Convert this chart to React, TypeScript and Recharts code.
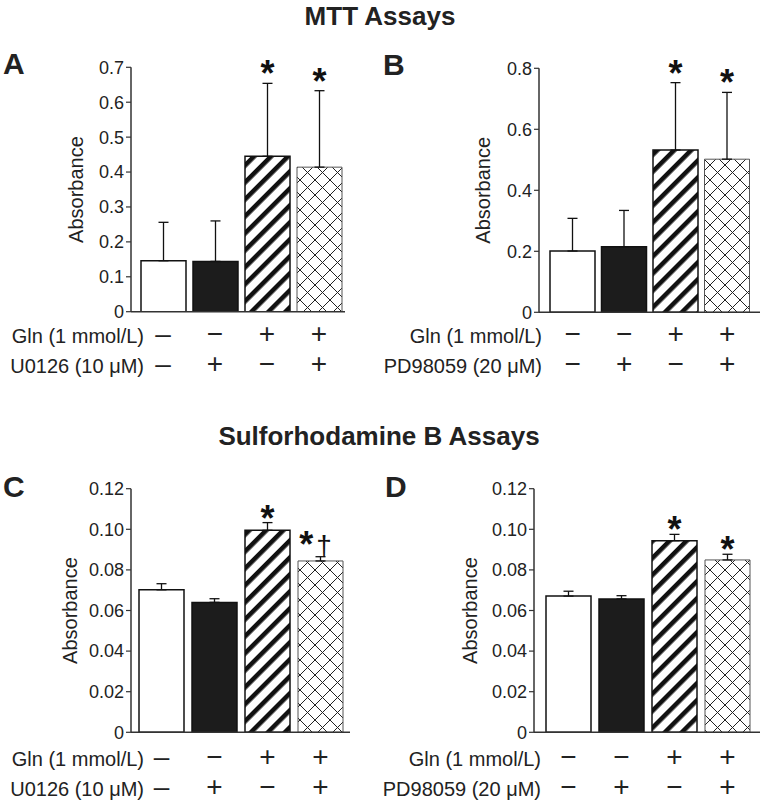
import React from "react";
import { BarChart, Bar, XAxis, YAxis, Cell, ErrorBar, LabelList } from "recharts";

// treatment groups, left to right
const groups = ["Control", "Inhibitor", "Gln", "Gln + inhibitor"];

// MTT, U0126 (panel A)
const mttU0126Mean = [0.146, 0.144, 0.445, 0.414];
const mttU0126Err = [0.11, 0.116, 0.209, 0.219];
const mttU0126Marks = ["", "", "*", "*"];

// MTT, PD98059 (panel B)
const mttPdMean = [0.201, 0.215, 0.532, 0.502];
const mttPdErr = [0.107, 0.119, 0.221, 0.219];
const mttPdMarks = ["", "", "*", "*"];

// Sulforhodamine B, U0126 (panel C)
const srbU0126Mean = [0.0702, 0.064, 0.0995, 0.0844];
const srbU0126Err = [0.003, 0.0018, 0.0038, 0.0021];
const srbU0126Marks = ["", "", "*", "*†"];

// Sulforhodamine B, PD98059 (panel D)
const srbPdMean = [0.0671, 0.0657, 0.0944, 0.0849];
const srbPdErr = [0.0024, 0.0016, 0.0031, 0.0028];
const srbPdMarks = ["", "", "*", "*"];

const mttU0126Ticks = [0, 0.1, 0.2, 0.3, 0.4, 0.5, 0.6, 0.7];
const mttPdTicks = [0, 0.2, 0.4, 0.6, 0.8];
const srbTicks = [0, 0.02, 0.04, 0.06, 0.08, 0.1, 0.12];

// treatment table rows
const glnLabel = "Gln (1 mmol/L)";
const u0126Label = "U0126 (10 μM)";
const pdLabel = "PD98059 (20 μM)";
const glnSignsLeft = ["–", "−", "+", "+"];
const u0126Signs = ["–", "+", "−", "+"];
const glnSignsRight = ["−", "−", "+", "+"];
const pdSigns = ["−", "+", "−", "+"];

const FONT = '"Liberation Sans", Arial, Helvetica, sans-serif';
const INK = "#222";

type Row = { label: string; signs: string[] };

type PanelProps = {
  id: string;
  box: { x: number; y: number; w: number; h: number };
  plot: { l: number; r: number; t: number; b: number };
  pad: { left: number; right: number };
  means: number[];
  errs: number[];
  marks: string[];
  ticks: number[];
  decimals: number;
  rows: Row[];
  rowY: number[];
  rowLabelRight: number;
  yLabelX: number;
  markGap: number;
};

function AxisTitle({ ax, ay }: { ax: number; ay: number }) {
  return (
    <text
      x={0}
      y={0}
      transform={`translate(${ax},${ay}) rotate(-90)`}
      textAnchor="middle"
      fontSize={20}
      fill={INK}
    >
      Absorbance
    </text>
  );
}

function Panel({
  id,
  box,
  plot,
  pad,
  means,
  errs,
  marks,
  ticks,
  decimals,
  rows,
  rowY,
  rowLabelRight,
  yLabelX,
  markGap,
}: PanelProps) {
  const data = groups.map((g, i) => ({
    group: g,
    mean: means[i],
    err: [0, errs[i]],
    mark: marks[i],
  }));
  const yAxisWidth = 50;
  const xAxisHeight = 60;
  const margin = {
    left: plot.l - box.x - yAxisWidth,
    right: box.x + box.w - plot.r,
    top: plot.t - box.y,
    bottom: box.y + box.h - plot.b - xAxisHeight,
  };
  const fills = ["#fff", "#1c1c1c", `url(#stripe-${id})`, `url(#cross-${id})`];
  const strokes = ["#111", "#111", "#111", "#555"];

  const renderTick = (p: any) => {
    const i = p.index ?? p.payload?.index ?? 0;
    return (
      <g>
        {rows.map((row, r) => (
          <text
            key={`s${r}`}
            x={p.x}
            y={rowY[r] - box.y}
            textAnchor="middle"
            fontSize={28}
            fill={INK}
          >
            {row.signs[i]}
          </text>
        ))}
        {i === 0 &&
          rows.map((row, r) => (
            <text
              key={`l${r}`}
              x={rowLabelRight - box.x}
              y={rowY[r] - box.y}
              textAnchor="end"
              fontSize={20}
              fill={INK}
            >
              {row.label}
            </text>
          ))}
      </g>
    );
  };

  const renderMark = (p: any) => {
    const i = p.index;
    const m = marks[i];
    if (!m) return null;
    const x = p.x ?? p.viewBox?.x;
    const y = p.y ?? p.viewBox?.y;
    const w = p.width ?? p.viewBox?.width;
    const h = p.height ?? p.viewBox?.height;
    // top of the whisker, through the bar's own scale
    const errTop = y - errs[i] * (h / means[i]);
    const extra = m.slice(1);
    const base = errTop - markGap - (extra ? 8 : 0) + 13;
    return (
      <text
        x={x + w / 2 - (extra ? 5 : 0)}
        y={base}
        textAnchor="middle"
        fontSize={36}
        fontWeight="bold"
        fill="#111"
      >
        {m[0]}
        {extra && (
          <tspan dx={3} dy={-2} fontSize={28} fontWeight="normal">
            {extra}
          </tspan>
        )}
      </text>
    );
  };

  return (
    <div style={{ position: "absolute", left: box.x, top: box.y }}>
      <BarChart width={box.w} height={box.h} data={data} margin={margin}>
        <defs>
          <pattern
            id={`stripe-${id}`}
            patternUnits="userSpaceOnUse"
            width={12}
            height={12}
            patternTransform="rotate(45)"
          >
            <rect x={0} y={0} width={12} height={12} fill="#fff" />
            <rect x={0} y={0} width={4.6} height={12} fill="#111" />
          </pattern>
          <pattern id={`cross-${id}`} patternUnits="userSpaceOnUse" width={15} height={15}>
            <rect x={0} y={0} width={15} height={15} fill="#fff" />
            <path d="M0,0 L15,15 M15,0 L0,15" stroke="#222" strokeWidth={1} />
          </pattern>
        </defs>
        <XAxis
          dataKey="group"
          type="category"
          padding={pad}
          height={xAxisHeight}
          interval={0}
          tickLine={false}
          axisLine={{ stroke: "#333", strokeWidth: 1.5 }}
          tick={renderTick}
        />
        <YAxis
          type="number"
          width={yAxisWidth}
          domain={[0, ticks[ticks.length - 1]]}
          ticks={ticks}
          interval={0}
          allowDataOverflow
          tickSize={5}
          axisLine={{ stroke: "#333", strokeWidth: 1.5 }}
          tickLine={{ stroke: "#333", strokeWidth: 1.2 }}
          tick={{ fontSize: 18, fill: INK }}
          tickFormatter={(v: number) => (v === 0 ? "0" : v.toFixed(decimals))}
          label={<AxisTitle ax={yLabelX - box.x} ay={(plot.t + plot.b) / 2 - box.y} />}
        />
        <Bar dataKey="mean" barSize={45} isAnimationActive={false}>
          {data.map((_, i) => (
            <Cell key={i} fill={fills[i]} stroke={strokes[i]} strokeWidth={i === 3 ? 1 : 1.5} />
          ))}
          <ErrorBar
            dataKey="err"
            direction="y"
            width={5}
            stroke="#111"
            strokeWidth={1.3}
            isAnimationActive={false}
          />
          <LabelList dataKey="mark" content={renderMark} />
        </Bar>
      </BarChart>
    </div>
  );
}

export default function App() {
  return (
    <div
      style={{
        position: "absolute",
        left: 0,
        top: 0,
        width: 763,
        height: 805,
        background: "#fff",
        fontFamily: FONT,
        color: INK,
      }}
    >
      <svg width={763} height={805} style={{ position: "absolute", left: 0, top: 0 }}>
        <text x={380} y={25} textAnchor="middle" fontSize={26} fontWeight="bold" fill={INK}>
          MTT Assays
        </text>
        <text x={379} y={445} textAnchor="middle" fontSize={26} fontWeight="bold" fill={INK}>
          Sulforhodamine B Assays
        </text>
        <text x={3} y={74} fontSize={30} fontWeight="bold" fill={INK}>
          A
        </text>
        <text x={383} y={75} fontSize={30} fontWeight="bold" fill={INK}>
          B
        </text>
        <text x={3} y={497} fontSize={30} fontWeight="bold" fill={INK}>
          C
        </text>
        <text x={385} y={497} fontSize={30} fontWeight="bold" fill={INK}>
          D
        </text>
      </svg>

      <Panel
        id="a"
        box={{ x: 0, y: 0, w: 380, h: 400 }}
        plot={{ l: 131, r: 345, t: 67.3, b: 311.7 }}
        pad={{ left: 6, right: 0 }}
        means={mttU0126Mean}
        errs={mttU0126Err}
        marks={mttU0126Marks}
        ticks={mttU0126Ticks}
        decimals={1}
        rows={[
          { label: glnLabel, signs: glnSignsLeft },
          { label: u0126Label, signs: u0126Signs },
        ]}
        rowY={[343, 373]}
        rowLabelRight={144}
        yLabelX={83}
        markGap={10}
      />
      <Panel
        id="b"
        box={{ x: 380, y: 0, w: 383, h: 400 }}
        plot={{ l: 539, r: 760, t: 68.3, b: 312.3 }}
        pad={{ left: 8, right: 7 }}
        means={mttPdMean}
        errs={mttPdErr}
        marks={mttPdMarks}
        ticks={mttPdTicks}
        decimals={1}
        rows={[
          { label: glnLabel, signs: glnSignsRight },
          { label: pdLabel, signs: pdSigns },
        ]}
        rowY={[343, 373]}
        rowLabelRight={542}
        yLabelX={490}
        markGap={10}
      />
      <Panel
        id="c"
        box={{ x: 0, y: 420, w: 380, h: 385 }}
        plot={{ l: 131, r: 350, t: 488.7, b: 732.3 }}
        pad={{ left: 4, right: 3 }}
        means={srbU0126Mean}
        errs={srbU0126Err}
        marks={srbU0126Marks}
        ticks={srbTicks}
        decimals={2}
        rows={[
          { label: glnLabel, signs: glnSignsLeft },
          { label: u0126Label, signs: u0126Signs },
        ]}
        rowY={[766, 796]}
        rowLabelRight={144}
        yLabelX={77}
        markGap={5}
      />
      <Panel
        id="d"
        box={{ x: 380, y: 420, w: 383, h: 385 }}
        plot={{ l: 534, r: 760, t: 488.7, b: 732.3 }}
        pad={{ left: 8, right: 6 }}
        means={srbPdMean}
        errs={srbPdErr}
        marks={srbPdMarks}
        ticks={srbTicks}
        decimals={2}
        rows={[
          { label: glnLabel, signs: glnSignsRight },
          { label: pdLabel, signs: pdSigns },
        ]}
        rowY={[766, 796]}
        rowLabelRight={541}
        yLabelX={477}
        markGap={5}
      />
    </div>
  );
}
